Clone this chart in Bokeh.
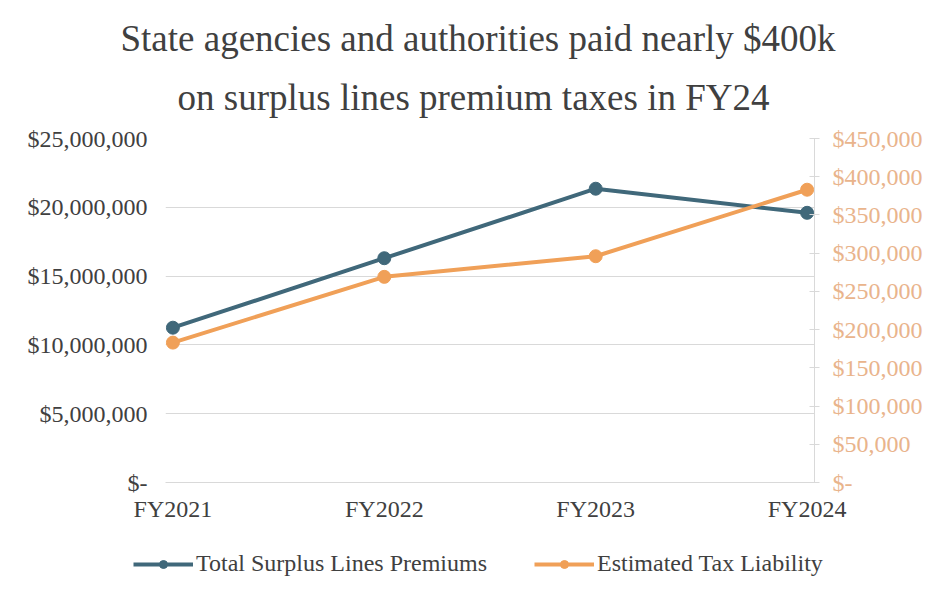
from bokeh.plotting import figure
from bokeh.models import (Range1d, LinearAxis, FixedTicker, Legend, LegendItem, Title)
from bokeh.embed import file_html
from bokeh.resources import INLINE

# ---- data ----
years = ["FY2021", "FY2022", "FY2023", "FY2024"]
premiums = [11250000, 16300000, 21350000, 19600000]
tax_liability = [183000, 269000, 296000, 383000]

left_ticks = [0, 5000000, 10000000, 15000000, 20000000, 25000000]
left_labels = ["$-", "$5,000,000", "$10,000,000", "$15,000,000", "$20,000,000", "$25,000,000"]
right_ticks = [0, 50000, 100000, 150000, 200000, 250000, 300000, 350000, 400000, 450000]
right_labels = ["$-", "$50,000", "$100,000", "$150,000", "$200,000", "$250,000",
                "$300,000", "$350,000", "$400,000", "$450,000"]

title_line1 = "State agencies and authorities paid  nearly $400k"
title_line2 = "on surplus lines premium taxes in FY24"
series_names = ["Total Surplus Lines Premiums", "Estimated Tax Liability"]

TEAL = "#40687a"
ORANGE = "#f0a058"
RIGHT_TXT = "#e9b48c"
TXT = "#404040"
GRID = "#d9d9d9"
FONT = "Liberation Serif"

x = list(range(len(years)))

p = figure(width=946, height=536, output_backend="svg", toolbar_location=None,
           x_range=Range1d(-0.035, 3.035), y_range=Range1d(0, 25000000),
           min_border_left=165, min_border_right=132, min_border_top=138,
           min_border_bottom=54)
p.extra_y_ranges = {"tax": Range1d(0, 450000)}
p.outline_line_color = None
p.background_fill_color = "white"
p.border_fill_color = "white"

# titles (the later-added title sits closer to the frame)
p.title.text = title_line1
p.title.text_font = FONT
p.title.text_font_size = "37px"
p.title.text_font_style = "normal"
p.title.text_color = TXT
p.title.align = "left"
p.title.offset = -45
p.title.standoff = 0
t2 = Title(text=title_line2, text_font=FONT, text_font_size="37px",
           text_font_style="normal", text_color=TXT, align="left", offset=12,
           standoff=37, vertical_align="top")
p.add_layout(t2, "above")

# grid
p.xgrid.grid_line_color = None
p.ygrid.grid_line_color = GRID
p.ygrid.grid_line_width = 1.2
p.ygrid.ticker = FixedTicker(ticks=left_ticks)

# left axis
ya = p.yaxis[0]
ya.ticker = FixedTicker(ticks=left_ticks)
ya.major_label_overrides = {t: l for t, l in zip(left_ticks, left_labels)}
ya.axis_line_color = None
ya.major_tick_line_color = None
ya.minor_tick_line_color = None
ya.major_label_text_font = FONT
ya.major_label_text_font_size = "24px"
ya.major_label_text_color = TXT
ya.major_label_standoff = 12

# x axis
xa = p.xaxis[0]
xa.ticker = FixedTicker(ticks=x)
xa.major_label_overrides = {i: y for i, y in zip(x, years)}
xa.axis_line_color = GRID
xa.major_tick_line_color = None
xa.minor_tick_line_color = None
xa.major_label_text_font = FONT
xa.major_label_text_font_size = "24px"
xa.major_label_text_color = TXT
xa.major_label_standoff = 7

# right axis
ra = LinearAxis(y_range_name="tax", ticker=FixedTicker(ticks=right_ticks))
ra.major_label_overrides = {t: l for t, l in zip(right_ticks, right_labels)}
ra.axis_line_color = GRID
ra.major_tick_line_color = GRID
ra.major_tick_in = 5
ra.major_tick_out = 5
ra.minor_tick_line_color = None
ra.major_label_text_font = FONT
ra.major_label_text_font_size = "24px"
ra.major_label_text_color = RIGHT_TXT
ra.major_label_standoff = 13
p.add_layout(ra, "right")

# series
p.line(x, premiums, line_color=TEAL, line_width=4)
p.scatter(x, premiums, size=13, marker="circle", fill_color=TEAL, line_color=TEAL)
p.line(x, tax_liability, line_color=ORANGE, line_width=4, y_range_name="tax")
p.scatter(x, tax_liability, size=13, marker="circle", fill_color=ORANGE,
          line_color=ORANGE, y_range_name="tax")

# ---- legend strip (same series; data lie outside this strip's view) ----
lg = figure(width=946, height=62, output_backend="svg", toolbar_location=None,
            x_range=Range1d(100, 101), y_range=Range1d(0, 1),
            min_border=0, x_axis_location=None, y_axis_location=None)
lg.outline_line_color = None
lg.grid.grid_line_color = None
lg.border_fill_color = "white"
lg.title.visible = False
l1 = lg.line(x, premiums, line_color=TEAL, line_width=4)
s1 = lg.scatter(x, premiums, size=11, marker="circle", fill_color=TEAL, line_color=TEAL)
l2 = lg.line(x, tax_liability, line_color=ORANGE, line_width=4)
s2 = lg.scatter(x, tax_liability, size=11, marker="circle", fill_color=ORANGE,
                line_color=ORANGE)

legend = Legend(items=[LegendItem(label=series_names[0], renderers=[l1, s1]),
                       LegendItem(label=series_names[1], renderers=[l2, s2])],
                orientation="horizontal", location=(133, 21),
                label_text_font=FONT, label_text_font_size="24px",
                label_text_color=TXT, glyph_width=60, glyph_height=20,
                spacing=47, label_standoff=3, border_line_color=None,
                background_fill_alpha=0, margin=0, padding=0)
lg.add_layout(legend, "center")

open("out.html", "w").write(file_html([p, lg], INLINE))
